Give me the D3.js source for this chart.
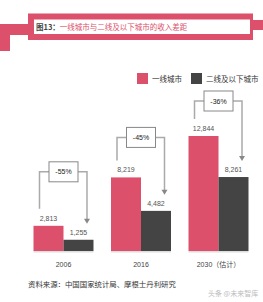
<!DOCTYPE html>
<html>
  <head>
    <meta charset="utf-8">
    <title>一线城市与二线及以下城市的收入差距</title>
    <script src="https://d3js.org/d3.v7.min.js" charset="utf-8"></script>
    <style type="text/css">
      body { margin: 0; background: #fff; }
      svg { display: block; }
      text { font-family: "Liberation Sans", Arial, "Noto Sans CJK SC", sans-serif; }
      .cjk { font-family: "Noto Sans CJK SC", sans-serif; }
    </style>
  </head>
  <body>
    <script type="text/javascript">

      // Data
      var years = ["2006", "2016", "2030（估计）"];
      var series = ["一线城市", "二线及以下城市"];
      var tier1 = [2813, 8219, 12844];
      var tier2 = [1255, 4482, 8261];
      var gapLabels = ["-55%", "-45%", "-36%"];
      var colors = ["#dc506b", "#444444"];

      var width = 263, height = 302;
      var pink = colors[0];

      var svg = d3.select("body").append("svg")
          .attr("width", width)
          .attr("height", height);

      // Header frame
      svg.append("rect").attr("x", 0).attr("y", 24).attr("width", 30).attr("height", 11).attr("fill", pink);
      svg.append("rect").attr("x", 0).attr("y", 24).attr("width", 10).attr("height", 27).attr("fill", pink);
      svg.append("rect").attr("x", 250).attr("y", 20).attr("width", 13).attr("height", 10).attr("fill", pink);
      svg.append("rect").attr("x", 28).attr("y", 13.5).attr("width", 225).attr("height", 26.5).attr("fill", pink);
      svg.append("rect").attr("x", 34).attr("y", 19.5).attr("width", 216).attr("height", 14.5).attr("fill", "#fff");

      var title = svg.append("text").attr("class", "cjk")
          .attr("x", 36).attr("y", 29.8)
          .style("font-size", "7.5px");
      title.append("tspan").attr("fill", "#444").style("font-weight", "bold").text("图13：");
      title.append("tspan").attr("fill", pink).text("一线城市与二线及以下城市的收入差距");

      // Legend
      var legendX = [137, 191];
      series.forEach(function(s, i) {
        svg.append("rect")
            .attr("x", legendX[i]).attr("y", 73)
            .attr("width", 11).attr("height", 11)
            .attr("fill", colors[i]);
        svg.append("text").attr("class", "cjk")
            .attr("x", legendX[i] + 15).attr("y", 81.5)
            .attr("fill", "#333")
            .style("font-size", "7.5px")
            .text(s);
      });

      // Scales
      var x0 = d3.scaleBand().domain(years).range([33.5, 248.5]).paddingInner(0.226).paddingOuter(0);
      var x1 = d3.scaleBand().domain(series).range([0, x0.bandwidth()]).padding(0);
      var y = d3.scaleLinear().domain([0, d3.max(tier1)]).range([251, 136]);

      var rows = years.map(function(yr, i) {
        return { year: yr, vals: [tier1[i], tier2[i]], gap: gapLabels[i] };
      });

      var groups = svg.selectAll("g.grp").data(rows).enter().append("g")
          .attr("class", "grp")
          .attr("transform", function(d) { return "translate(" + x0(d.year) + ",0)"; });

      // baseline under each group
      groups.append("line")
          .attr("x1", 0).attr("x2", x0.bandwidth())
          .attr("y1", y(0) + 0.8).attr("y2", y(0) + 0.8)
          .attr("stroke", "#ddd").attr("stroke-width", 1.5);

      groups.selectAll("rect.bar").data(function(d) { return d.vals; }).enter().append("rect")
          .attr("class", "bar")
          .attr("x", function(d, i) { return x1(series[i]); })
          .attr("y", function(d) { return y(d); })
          .attr("width", x1.bandwidth())
          .attr("height", function(d) { return y(0) - y(d); })
          .attr("fill", function(d, i) { return colors[i]; });

      groups.selectAll("text.val").data(function(d) { return d.vals; }).enter().append("text")
          .attr("class", "val")
          .attr("x", function(d, i) { return x1(series[i]) + x1.bandwidth() / 2; })
          .attr("y", function(d) { return y(d) - 5; })
          .attr("text-anchor", "middle")
          .attr("fill", "#555")
          .style("font-size", "7px")
          .text(function(d) { return d3.format(",")(d); });

      // x labels
      groups.append("text")
          .attr("x", x0.bandwidth() / 2).attr("y", 266.5)
          .attr("text-anchor", "middle")
          .attr("fill", "#444")
          .style("font-size", "7px")
          .text(function(d) { return d.year; });

      // gap brackets
      var lift = [54, 40, 35];
      groups.each(function(d, i) {
        var g = d3.select(this);
        var cx = x0.bandwidth() / 2;
        var lx = x1(series[0]) + x1.bandwidth() / 2 - 9;
        var rx = x1(series[1]) + x1.bandwidth() / 2 + 8.5;
        var hy = y(d.vals[0]) - lift[i];
        var tip = y(d.vals[1]) - 16;
        g.append("path")
            .attr("d", "M" + lx + "," + (y(d.vals[0]) - 17) + "V" + hy + "H" + rx + "V" + (tip - 4))
            .attr("fill", "none").attr("stroke", "#aaa").attr("stroke-width", 1.5);
        g.append("path")
            .attr("d", "M" + (rx - 3) + "," + (tip - 5) + "L" + (rx + 3) + "," + (tip - 5) + "L" + rx + "," + tip + "Z")
            .attr("fill", "#888");
        g.append("rect")
            .attr("x", cx - 14.5).attr("y", hy - 10)
            .attr("width", 29).attr("height", 20)
            .attr("fill", "#fff").attr("stroke", "#888").attr("stroke-width", 1);
        g.append("text")
            .attr("x", cx).attr("y", hy + 2.5)
            .attr("text-anchor", "middle")
            .attr("fill", "#222")
            .style("font-size", "7px")
            .text(d.gap);
      });

      // footer
      svg.append("text").attr("class", "cjk")
          .attr("x", 28).attr("y", 287)
          .attr("fill", "#333")
          .style("font-size", "7.4px")
          .text("资料来源：中国国家统计局、摩根士丹利研究");

      svg.append("text").attr("class", "cjk")
          .attr("x", 208).attr("y", 296)
          .attr("fill", "#bbb")
          .style("font-size", "7px")
          .text("头条 @未来智库");

    </script>
  </body>
</html>
